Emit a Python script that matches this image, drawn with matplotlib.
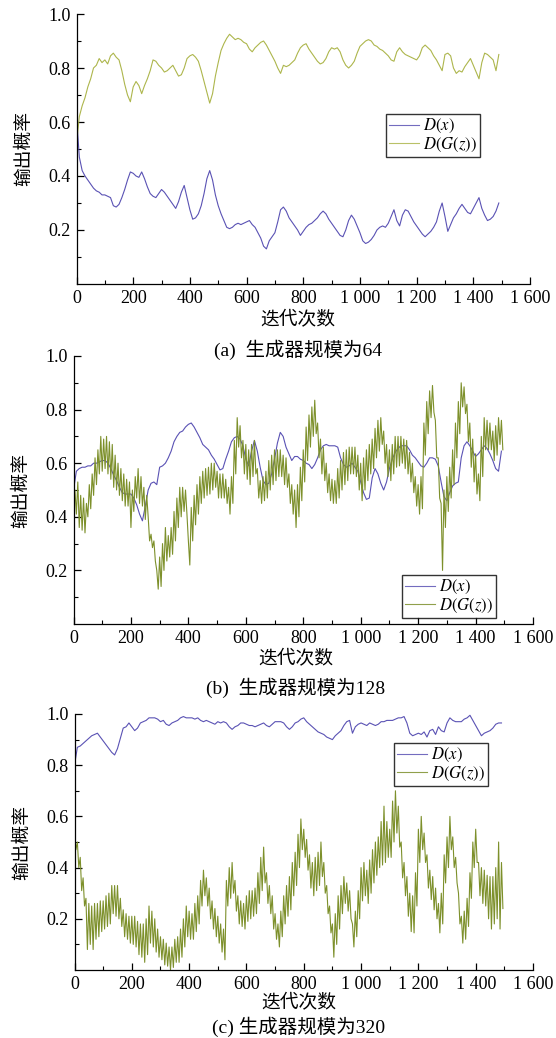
import matplotlib
matplotlib.use('Agg')
import matplotlib.pyplot as plt
from matplotlib.ticker import FixedLocator
import numpy as np

plt.rcParams['font.family'] = ['Liberation Serif', 'Noto Sans CJK SC']
plt.rcParams['mathtext.fontset'] = 'stix'

# iterations: smooth curves sampled every 10 steps, noisy curves every 5 steps
iters = np.arange(0, 1500, 10)
iters_fine = np.arange(0, 1500, 5)

# (a) generator size 64
dx_64 = [0.62, 0.47, 0.42, 0.40, 0.385, 0.37, 0.355, 0.345, 0.34, 0.33,
         0.33, 0.325, 0.32, 0.29, 0.285, 0.295, 0.32, 0.35, 0.385, 0.415,
         0.41, 0.40, 0.395, 0.415, 0.39, 0.36, 0.335, 0.325, 0.32, 0.335,
         0.35, 0.34, 0.325, 0.31, 0.295, 0.28, 0.305, 0.34, 0.365, 0.32,
         0.275, 0.24, 0.245, 0.26, 0.29, 0.335, 0.39, 0.42, 0.385, 0.33,
         0.29, 0.26, 0.235, 0.21, 0.205, 0.21, 0.22, 0.225, 0.22, 0.225,
         0.23, 0.235, 0.22, 0.21, 0.19, 0.17, 0.14, 0.13, 0.16, 0.175,
         0.19, 0.23, 0.275, 0.285, 0.27, 0.245, 0.23, 0.215, 0.20, 0.18,
         0.195, 0.21, 0.22, 0.225, 0.235, 0.245, 0.26, 0.27, 0.26, 0.24,
         0.225, 0.21, 0.195, 0.18, 0.175, 0.20, 0.235, 0.255, 0.24, 0.215,
         0.19, 0.16, 0.15, 0.155, 0.165, 0.18, 0.20, 0.21, 0.215, 0.21,
         0.225, 0.25, 0.275, 0.235, 0.215, 0.255, 0.275, 0.27, 0.25, 0.23,
         0.215, 0.20, 0.185, 0.175, 0.185, 0.195, 0.21, 0.23, 0.27, 0.30,
         0.25, 0.195, 0.22, 0.245, 0.26, 0.28, 0.295, 0.28, 0.265, 0.26,
         0.28, 0.30, 0.32, 0.28, 0.255, 0.235, 0.24, 0.25, 0.27, 0.30]
dgz_64 = [0.52, 0.62, 0.66, 0.69, 0.73, 0.76, 0.80, 0.81, 0.835, 0.82,
          0.83, 0.815, 0.845, 0.855, 0.84, 0.83, 0.79, 0.74, 0.70, 0.675,
          0.73, 0.75, 0.735, 0.705, 0.735, 0.76, 0.79, 0.83, 0.825, 0.81,
          0.80, 0.785, 0.79, 0.80, 0.81, 0.79, 0.77, 0.775, 0.80, 0.835,
          0.845, 0.85, 0.84, 0.825, 0.79, 0.75, 0.71, 0.67, 0.705, 0.77,
          0.82, 0.865, 0.89, 0.91, 0.925, 0.915, 0.905, 0.91, 0.905, 0.895,
          0.89, 0.87, 0.86, 0.875, 0.885, 0.895, 0.90, 0.885, 0.865, 0.845,
          0.825, 0.80, 0.78, 0.81, 0.805, 0.81, 0.82, 0.83, 0.855, 0.875,
          0.885, 0.89, 0.87, 0.855, 0.84, 0.825, 0.815, 0.82, 0.835, 0.86,
          0.875, 0.87, 0.875, 0.86, 0.83, 0.81, 0.80, 0.81, 0.825, 0.855,
          0.88, 0.89, 0.90, 0.905, 0.90, 0.885, 0.88, 0.87, 0.865, 0.855,
          0.845, 0.83, 0.825, 0.86, 0.875, 0.86, 0.85, 0.845, 0.84, 0.835,
          0.83, 0.845, 0.875, 0.885, 0.875, 0.865, 0.845, 0.83, 0.81, 0.79,
          0.85, 0.855, 0.845, 0.80, 0.78, 0.79, 0.785, 0.805, 0.82, 0.835,
          0.81, 0.785, 0.76, 0.82, 0.855, 0.85, 0.84, 0.83, 0.79, 0.85]

# (b) generator size 128
dx_128 = [0.50, 0.57, 0.58, 0.585, 0.585, 0.59, 0.59, 0.60, 0.60, 0.605,
          0.61, 0.61, 0.60, 0.58, 0.555, 0.535, 0.51, 0.49, 0.485, 0.485,
          0.485, 0.47, 0.445, 0.41, 0.385, 0.44, 0.50, 0.525, 0.53, 0.52,
          0.585, 0.59, 0.60, 0.62, 0.645, 0.68, 0.70, 0.715, 0.72, 0.735,
          0.745, 0.75, 0.735, 0.715, 0.695, 0.67, 0.66, 0.65, 0.63, 0.615,
          0.595, 0.575, 0.58, 0.615, 0.645, 0.68, 0.695, 0.70, 0.69, 0.665,
          0.615, 0.59, 0.645, 0.685, 0.645, 0.585, 0.535, 0.52, 0.525, 0.56,
          0.615, 0.675, 0.715, 0.70, 0.66, 0.635, 0.61, 0.625, 0.625, 0.615,
          0.61, 0.60, 0.595, 0.58, 0.595, 0.62, 0.65, 0.665, 0.67, 0.665,
          0.665, 0.665, 0.66, 0.62, 0.595, 0.585, 0.59, 0.60, 0.585, 0.57,
          0.53, 0.49, 0.465, 0.47, 0.545, 0.58, 0.56, 0.525, 0.50, 0.53,
          0.58, 0.615, 0.64, 0.655, 0.665, 0.665, 0.665, 0.65, 0.63, 0.62,
          0.605, 0.59, 0.585, 0.60, 0.62, 0.62, 0.615, 0.59, 0.53, 0.475,
          0.46, 0.49, 0.515, 0.525, 0.53, 0.62, 0.665, 0.68, 0.665, 0.645,
          0.625, 0.635, 0.65, 0.665, 0.655, 0.635, 0.61, 0.58, 0.57, 0.645]
dgz_128 = [0.46, 0.50, 0.41, 0.53, 0.36, 0.48, 0.35, 0.47, 0.34, 0.45,
           0.40, 0.52, 0.43, 0.56, 0.48, 0.62, 0.52, 0.65, 0.56, 0.70,
           0.57, 0.69, 0.58, 0.70, 0.56, 0.68, 0.54, 0.67, 0.51, 0.63,
           0.50, 0.60, 0.48, 0.58, 0.46, 0.56, 0.44, 0.54, 0.44, 0.53,
           0.36, 0.50, 0.42, 0.55, 0.47, 0.58, 0.45, 0.55, 0.44, 0.51,
           0.39, 0.48, 0.40, 0.31, 0.335, 0.285, 0.31, 0.235, 0.20, 0.13,
           0.25, 0.14, 0.30, 0.20, 0.36, 0.235, 0.33, 0.25, 0.36, 0.26,
           0.42, 0.31, 0.47, 0.36, 0.51, 0.40, 0.51, 0.42, 0.50, 0.41,
           0.31, 0.22, 0.435, 0.31, 0.48, 0.37, 0.52, 0.41, 0.55, 0.45,
           0.57, 0.47, 0.58, 0.48, 0.585, 0.485, 0.60, 0.50, 0.60, 0.51,
           0.57, 0.47, 0.56, 0.47, 0.56, 0.47, 0.54, 0.45, 0.51, 0.41,
           0.55, 0.45, 0.685, 0.56, 0.77, 0.66, 0.74, 0.62, 0.685, 0.56,
           0.67, 0.54, 0.65, 0.52, 0.67, 0.55, 0.685, 0.56, 0.58, 0.47,
           0.535, 0.45, 0.55, 0.46, 0.57, 0.47, 0.61, 0.50, 0.63, 0.52,
           0.65, 0.535, 0.65, 0.55, 0.65, 0.55, 0.63, 0.52, 0.62, 0.51,
           0.56, 0.45, 0.52, 0.41, 0.50, 0.36, 0.52, 0.40, 0.585, 0.46,
           0.65, 0.53, 0.735, 0.61, 0.78, 0.66, 0.81, 0.70, 0.835, 0.71,
           0.75, 0.62, 0.69, 0.56, 0.66, 0.535, 0.60, 0.49, 0.56, 0.46,
           0.54, 0.45, 0.535, 0.45, 0.58, 0.47, 0.61, 0.50, 0.64, 0.52,
           0.65, 0.535, 0.66, 0.56, 0.66, 0.56, 0.66, 0.55, 0.63, 0.50,
           0.60, 0.46, 0.62, 0.50, 0.65, 0.535, 0.67, 0.56, 0.69, 0.58,
           0.73, 0.62, 0.76, 0.645, 0.77, 0.67, 0.72, 0.60, 0.67, 0.55,
           0.65, 0.535, 0.67, 0.56, 0.70, 0.585, 0.70, 0.59, 0.70, 0.60,
           0.69, 0.58, 0.685, 0.56, 0.64, 0.53, 0.60, 0.49, 0.55, 0.44,
           0.52, 0.41, 0.55, 0.43, 0.75, 0.63, 0.83, 0.71, 0.87, 0.77,
           0.89, 0.79, 0.76, 0.62, 0.62, 0.47, 0.45, 0.20, 0.50, 0.36,
           0.55, 0.42, 0.585, 0.47, 0.65, 0.52, 0.75, 0.62, 0.83, 0.71,
           0.90, 0.81, 0.885, 0.785, 0.82, 0.68, 0.75, 0.585, 0.69, 0.53,
           0.635, 0.485, 0.56, 0.46, 0.70, 0.55, 0.77, 0.65, 0.76, 0.65,
           0.75, 0.65, 0.72, 0.61, 0.74, 0.63, 0.77, 0.67, 0.76, 0.65]

# (c) generator size 320
dx_320 = [0.80, 0.87, 0.875, 0.885, 0.895, 0.905, 0.915, 0.92, 0.925, 0.91,
          0.895, 0.88, 0.865, 0.85, 0.84, 0.865, 0.905, 0.945, 0.95, 0.965,
          0.95, 0.935, 0.945, 0.965, 0.97, 0.975, 0.985, 0.985, 0.985, 0.98,
          0.97, 0.975, 0.96, 0.955, 0.965, 0.97, 0.975, 0.985, 0.99, 0.985,
          0.985, 0.985, 0.98, 0.985, 0.975, 0.97, 0.975, 0.97, 0.965, 0.96,
          0.97, 0.965, 0.97, 0.965, 0.95, 0.94, 0.95, 0.955, 0.965, 0.965,
          0.96, 0.955, 0.955, 0.95, 0.955, 0.96, 0.965, 0.955, 0.95, 0.96,
          0.97, 0.97, 0.97, 0.965, 0.95, 0.94, 0.95, 0.965, 0.97, 0.98,
          0.985, 0.97, 0.96, 0.95, 0.94, 0.93, 0.925, 0.92, 0.91, 0.905,
          0.90, 0.915, 0.925, 0.935, 0.955, 0.97, 0.975, 0.925, 0.95, 0.96,
          0.965, 0.96, 0.955, 0.965, 0.96, 0.955, 0.96, 0.97, 0.97, 0.975,
          0.975, 0.975, 0.98, 0.985, 0.985, 0.99, 0.965, 0.925, 0.915, 0.92,
          0.925, 0.92, 0.93, 0.91, 0.935, 0.94, 0.92, 0.95, 0.935, 0.93,
          0.965, 0.985, 0.975, 0.97, 0.97, 0.97, 0.98, 0.985, 0.995, 0.975,
          0.955, 0.935, 0.915, 0.925, 0.93, 0.935, 0.945, 0.96, 0.965, 0.965]
dgz_320 = [0.55, 0.47, 0.50, 0.40, 0.44, 0.31, 0.36, 0.25, 0.28, 0.08,
           0.26, 0.10, 0.25, 0.08, 0.26, 0.12, 0.26, 0.13, 0.27, 0.15,
           0.27, 0.16, 0.29, 0.17, 0.30, 0.18, 0.33, 0.22, 0.33, 0.21,
           0.33, 0.20, 0.28, 0.17, 0.235, 0.13, 0.22, 0.12, 0.21, 0.105,
           0.21, 0.10, 0.21, 0.09, 0.19, 0.06, 0.18, 0.05, 0.18, 0.03,
           0.20, 0.06, 0.25, 0.105, 0.23, 0.09, 0.20, 0.07, 0.16, 0.05,
           0.13, 0.04, 0.12, 0.02, 0.105, 0.015, 0.09, 0.0, 0.09, 0.01,
           0.12, 0.03, 0.13, 0.03, 0.16, 0.05, 0.20, 0.09, 0.25, 0.13,
           0.23, 0.12, 0.22, 0.12, 0.26, 0.15, 0.29, 0.18, 0.35, 0.25,
           0.39, 0.29, 0.36, 0.25, 0.32, 0.20, 0.27, 0.16, 0.24, 0.13,
           0.21, 0.105, 0.18, 0.07, 0.16, 0.04, 0.35, 0.25, 0.40, 0.28,
           0.42, 0.30, 0.35, 0.23, 0.29, 0.18, 0.27, 0.17, 0.26, 0.16,
           0.29, 0.19, 0.31, 0.20, 0.31, 0.21, 0.32, 0.22, 0.38, 0.26,
           0.44, 0.31, 0.48, 0.34, 0.38, 0.26, 0.33, 0.22, 0.29, 0.16,
           0.22, 0.12, 0.18, 0.09, 0.23, 0.13, 0.29, 0.18, 0.33, 0.21,
           0.365, 0.235, 0.42, 0.29, 0.46, 0.33, 0.53, 0.40, 0.59, 0.47,
           0.55, 0.44, 0.51, 0.39, 0.45, 0.32, 0.42, 0.29, 0.44, 0.31,
           0.46, 0.33, 0.50, 0.365, 0.42, 0.30, 0.33, 0.22, 0.25, 0.145,
           0.18, 0.05, 0.22, 0.10, 0.29, 0.16, 0.33, 0.22, 0.365, 0.26,
           0.34, 0.23, 0.31, 0.20, 0.18, 0.09, 0.23, 0.13, 0.31, 0.20,
           0.40, 0.27, 0.42, 0.29, 0.39, 0.26, 0.43, 0.30, 0.47, 0.34,
           0.50, 0.37, 0.52, 0.40, 0.58, 0.41, 0.64, 0.42, 0.58, 0.44,
           0.55, 0.44, 0.66, 0.50, 0.70, 0.535, 0.64, 0.48, 0.50, 0.36,
           0.42, 0.29, 0.365, 0.21, 0.30, 0.15, 0.29, 0.145, 0.38, 0.25,
           0.55, 0.42, 0.60, 0.47, 0.535, 0.42, 0.45, 0.32, 0.39, 0.275,
           0.365, 0.235, 0.32, 0.20, 0.26, 0.145, 0.30, 0.18, 0.45, 0.34,
           0.52, 0.40, 0.60, 0.47, 0.52, 0.40, 0.44, 0.34, 0.30, 0.18,
           0.21, 0.105, 0.23, 0.12, 0.28, 0.17, 0.38, 0.28, 0.50, 0.40,
           0.55, 0.42, 0.42, 0.29, 0.40, 0.26, 0.39, 0.25, 0.37, 0.20,
           0.365, 0.16, 0.365, 0.18, 0.40, 0.20, 0.50, 0.16, 0.42, 0.24]

xticks = [0, 200, 400, 600, 800, 1000, 1200, 1400, 1600]
xtick_labels = ['0', '200', '400', '600', '800', '1 000', '1 200', '1 400', '1 600']
yticks = [0.2, 0.4, 0.6, 0.8, 1.0]
ytick_labels = ['0.2', '0.4', '0.6', '0.8', '1.0']
captions = ['(a)  生成器规模为64', '(b)  生成器规模为128', '(c) 生成器规模为320']

blue = '#5a52b4'
olive_light = '#adb64c'
olive_dark = '#7d902b'

W, H = 556, 1038
fig = plt.figure(figsize=(W / 100, H / 100), dpi=100)

def px_axes(left, top, right, bottom):
    return fig.add_axes([left / W, 1 - bottom / H, (right - left) / W, (bottom - top) / H])

panels = [
    dict(box=(76.5, 14, 530, 284), dx=dx_64, dgz=dgz_64, gx=iters, col=olive_light,
         leg=(386, 114), xl=320, cap=350, cx=298),
    dict(box=(73.5, 356, 533, 624), dx=dx_128, dgz=dgz_128, gx=iters_fine, col=olive_dark,
         leg=(402, 575), xl=659, cap=688, cx=296),
    dict(box=(74.5, 714, 533, 970), dx=dx_320, dgz=dgz_320, gx=iters_fine, col=olive_dark,
         leg=(394, 743), xl=1003, cap=1027, cx=299),
]

for p, cap in zip(panels, captions):
    l, t, r, b = p['box']
    ax = px_axes(l, t, r, b)
    ax.plot(iters, p['dx'], color=blue, lw=0.8, label=r'$D(x)$')
    ax.plot(p['gx'], p['dgz'], color=p['col'], lw=0.8, label=r'$D(G(z))$')
    ax.set_xlim(0, 1600)
    ax.set_ylim(0, 1.0)
    ax.spines['top'].set_visible(False)
    ax.spines['right'].set_visible(False)
    ax.set_xticks(xticks)
    ax.set_xticklabels(xtick_labels)
    ax.set_yticks(yticks)
    ax.set_yticklabels(ytick_labels)
    ax.xaxis.set_minor_locator(FixedLocator(np.arange(100, 1600, 200)))
    ax.yaxis.set_minor_locator(FixedLocator([0.1, 0.3, 0.5, 0.7, 0.9]))
    ax.tick_params(which='major', direction='in', length=5, width=0.9, labelsize=13, pad=4)
    ax.tick_params(which='minor', direction='in', length=3, width=0.8)
    for s in ['left', 'bottom']:
        ax.spines[s].set_linewidth(0.9)
    ax.set_ylabel('输出概率', fontsize=13.5, labelpad=11)

    ll, lt = p['leg']
    leg = ax.legend(loc='upper left',
                    bbox_to_anchor=((ll - l) / (r - l), 1 - (lt - t) / (b - t)),
                    fontsize=12, frameon=True, fancybox=False, edgecolor='black',
                    handlelength=1.75, handletextpad=0.25, borderpad=0.2,
                    labelspacing=0.0, borderaxespad=0)
    leg.get_frame().set_linewidth(1.0)
    for ln in leg.get_lines():
        ln.set_alpha(0.85)

    fig.text(p['cx'] / W, 1 - p['xl'] / H, '迭代次数', ha='center', va='center', fontsize=13.5)
    fig.text(p['cx'] / W, 1 - p['cap'] / H, cap, ha='center', va='center', fontsize=14)

fig.savefig('out.png', dpi=100)
